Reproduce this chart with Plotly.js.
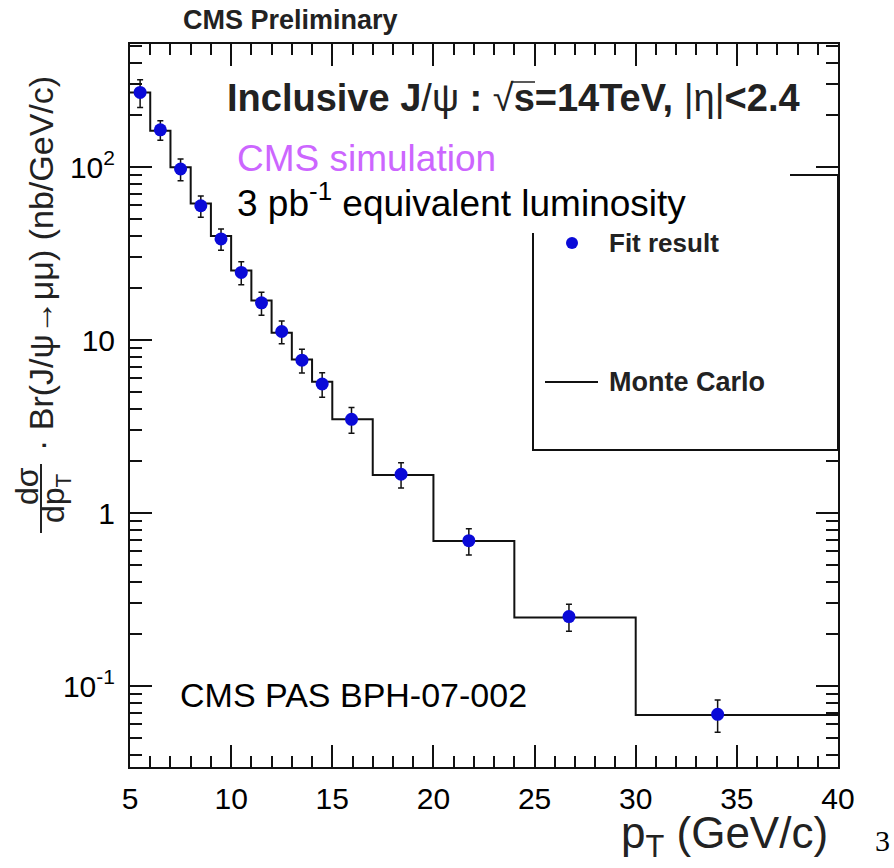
<!DOCTYPE html>
<html>
<head>
<meta charset="utf-8">
<script src="https://cdn.plot.ly/plotly-3.0.1.min.js"></script>
<style>html,body{margin:0;padding:0;background:#fff;}</style>
</head>
<body>
<div id="chart" style="width:894px;height:868px;"></div>
<script>
// ---- data ----
const binEdges = [5, 6, 7, 8, 9, 10, 11, 12, 13, 14, 15, 17, 20, 24, 30, 40];
const mcValues = [270, 162, 99.6, 61.6, 39.9, 25.2, 16.9, 11.0, 7.72, 5.74, 3.48, 1.66, 0.689, 0.249, 0.0679];
const fitPt = [5.5, 6.5, 7.5, 8.5, 9.5, 10.5, 11.5, 12.5, 13.5, 14.5, 15.95, 18.4, 21.75, 26.7, 34.05];
const fitValues = [270, 164, 97.4, 59.7, 38.4, 24.6, 16.4, 11.2, 7.65, 5.57, 3.48, 1.675, 0.692, 0.252, 0.0686];
const fitErrors = [49, 21, 14, 8.4, 5.4, 3.7, 2.5, 1.7, 1.2, 0.9, 0.59, 0.28, 0.12, 0.045, 0.0145];
const xTickVals = [5, 10, 15, 20, 25, 30, 35, 40];
const xTickText = ["5", "10", "15", "20", "25", "30", "35", "40"];
const yTickVals = [0.1, 1, 10, 100];
const yTickText = ["10<sup>-1</sup>", "1", "10", "10<sup>2</sup>"];

// ---- layout helpers (pixel -> paper) ----
const L = 130, R = 838, T = 44, B = 767;
const X = px => (px - L) / (R - L);
const Y = py => (B - py) / (B - T);
const xRange = [5, 40];
const yRange = [-1.468, 2.711];

const yMinor = [];
[0.01, 0.1, 1, 10, 100].forEach(d => { for (let k = 2; k <= 9; k++) yMinor.push(d * k); });

const mcY = mcValues.concat([mcValues[mcValues.length - 1]]);

const traces = [
  {
    type: 'scatter', mode: 'lines', name: 'Monte Carlo',
    x: binEdges, y: mcY, xaxis: 'x', yaxis: 'y',
    line: {shape: 'hv', color: '#111', width: 2},
    hoverinfo: 'skip'
  },
  {
    type: 'scatter', mode: 'markers', name: 'Fit result',
    x: fitPt, y: fitValues, xaxis: 'x2', yaxis: 'y2',
    error_y: {type: 'data', array: fitErrors, visible: true, color: '#111', thickness: 1.5, width: 3},
    marker: {color: '#0a0ad8', size: 13, symbol: 'circle'}
  }
];

const font = 'Liberation Sans, Arial, Helvetica, sans-serif';
const ann = (px, py, text, size, opts) => Object.assign({
  xref: 'paper', yref: 'paper', x: X(px), y: Y(py), text: text, showarrow: false,
  font: {family: font, size: size, color: '#000'}, xanchor: 'left', yanchor: 'middle'
}, opts || {});

const tickFont = {family: font, size: 30, color: '#000'};

const layout = {
  width: 894, height: 868,
  margin: {l: L, r: 894 - R, t: T, b: 868 - B},
  showlegend: false,
  // frame + major and minor ticks
  xaxis: {range: xRange, showgrid: false, zeroline: false, showline: true, linecolor: '#111', linewidth: 2,
          mirror: 'ticks', ticks: 'inside', ticklen: 22, tickwidth: 1.5, tickcolor: '#111',
          tickvals: xTickVals, showticklabels: false,
          minor: {tickmode: 'linear', tick0: 5, dtick: 1, ticks: 'inside', ticklen: 11, tickwidth: 1.5, tickcolor: '#111', showgrid: false}},
  yaxis: {type: 'log', range: yRange, showgrid: false, zeroline: false, showline: true, linecolor: '#111', linewidth: 2,
          mirror: 'ticks', ticks: 'inside', ticklen: 22, tickwidth: 1.5, tickcolor: '#111',
          tickvals: yTickVals, showticklabels: false,
          minor: {tickmode: 'array', tickvals: yMinor, ticks: 'inside', ticklen: 12, tickwidth: 1.5, tickcolor: '#111', showgrid: false}},
  // tick labels (offset from the frame by invisible outside ticks)
  xaxis2: {overlaying: 'x', anchor: 'y2', side: 'bottom', range: xRange, showgrid: false, zeroline: false, showline: false,
           ticks: 'outside', ticklen: 5, tickcolor: 'rgba(0,0,0,0)',
           tickvals: xTickVals, ticktext: xTickText, tickfont: tickFont},
  yaxis2: {overlaying: 'y', anchor: 'x2', side: 'left', type: 'log', range: yRange, showgrid: false, zeroline: false, showline: false,
           ticks: 'outside', ticklen: 8, tickcolor: 'rgba(0,0,0,0)',
           tickvals: yTickVals, ticktext: yTickText, tickfont: tickFont},
  shapes: [
    // legend box
    {type: 'rect', xref: 'paper', yref: 'paper', x0: X(533), x1: X(838), y0: Y(175), y1: Y(450),
     fillcolor: '#fff', line: {color: '#111', width: 2}, layer: 'above'},
    // white panel behind the overlay text
    {type: 'rect', xref: 'paper', yref: 'paper', x0: X(236), x1: X(790), y0: Y(138), y1: Y(233),
     fillcolor: '#fff', line: {width: 0}, layer: 'above'},
    // legend symbols
    {type: 'circle', xref: 'paper', yref: 'paper', x0: X(566), x1: X(578), y0: Y(237), y1: Y(249),
     fillcolor: '#0a0ad8', line: {width: 0}, layer: 'above'},
    {type: 'line', xref: 'paper', yref: 'paper', x0: X(545), x1: X(598), y0: Y(382), y1: Y(382),
     line: {color: '#111', width: 2}, layer: 'above'},
    // sqrt overline
    {type: 'line', xref: 'paper', yref: 'paper', x0: X(511), x1: X(535), y0: Y(82), y1: Y(82),
     line: {color: '#222', width: 1.5}, layer: 'above'},
    // fraction bar of the y title
    {type: 'line', xref: 'paper', yref: 'paper', x0: X(41), x1: X(41), y0: Y(464), y1: Y(533),
     line: {color: '#222', width: 2}, layer: 'above'}
  ],
  annotations: [
    ann(290, 20, '<b>CMS Preliminary</b>', 27, {xanchor: 'center', font: {family: font, size: 27, color: '#222'}}),
    ann(225, 98, '<b>Inclusive J</b>/ψ <b>:</b> √<b>s=14TeV,</b> |η|<b><2.4</b>', 38, {font: {family: font, size: 38, color: '#222'}}),
    ann(235, 158, 'CMS simulation', 37, {font: {family: font, size: 37, color: '#cc66ff'}}),
    ann(235, 200, '3 pb<sup>-1</sup> equivalent luminosity', 37),
    ann(607, 243, '<b>Fit result</b>', 26, {font: {family: font, size: 26, color: '#222'}}),
    ann(607, 382, '<b>Monte Carlo</b>', 27, {font: {family: font, size: 27, color: '#222'}}),
    ann(178, 695, 'CMS PAS BPH-07-002', 34),
    ann(830, 866, 'p<sub>T</sub> (GeV/c)', 44, {xanchor: 'right', yanchor: 'bottom', font: {family: font, size: 44, color: '#222'}}),
    ann(882, 840, '3', 30, {xanchor: 'center', font: {family: 'Liberation Serif, serif', size: 30, color: '#000'}}),
    // y-axis title pieces
    ann(27, 486, 'dσ', 32, {xanchor: 'center', textangle: -90, font: {family: font, size: 32, color: '#222'}}),
    ann(55, 498, 'dp<sub>T</sub>', 32, {xanchor: 'center', textangle: -90, font: {family: font, size: 32, color: '#222'}}),
    ann(41, 264, '· Br(J/ψ→μμ) (nb/GeV/c)', 34, {xanchor: 'center', textangle: -90, font: {family: font, size: 34, color: '#222'}})
  ]
};

Plotly.newPlot('chart', traces, layout, {displayModeBar: false});
</script>
</body>
</html>
